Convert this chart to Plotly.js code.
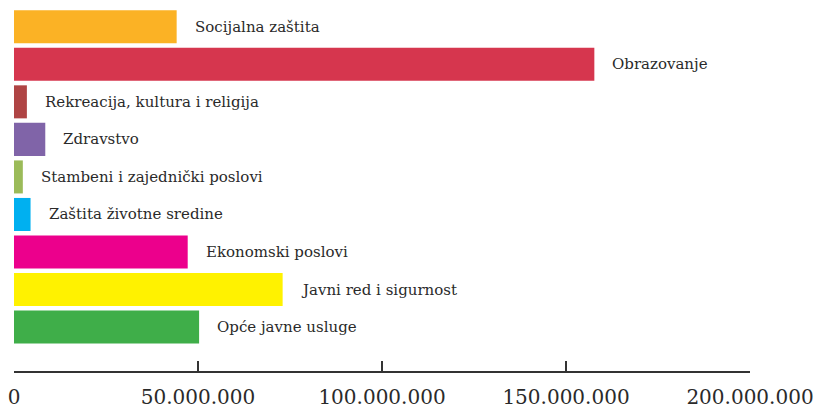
<!DOCTYPE html>
<html>
<head>
<meta charset="utf-8">
<script src="https://cdn.plot.ly/plotly-3.0.1.min.js"></script>
<style>html,body{margin:0;padding:0;background:#fff;}#chart{width:818px;height:409px;}</style>
</head>
<body>
<div id="chart"></div>
<script>
const categories = [
  "Socijalna zaštita",
  "Obrazovanje",
  "Rekreacija, kultura i religija",
  "Zdravstvo",
  "Stambeni i zajednički poslovi",
  "Zaštita životne sredine",
  "Ekonomski poslovi",
  "Javni red i sigurnost",
  "Opće javne usluge"
];
const values = [44200000, 157700000, 3500000, 8500000, 2400000, 4500000, 47200000, 73000000, 50300000];
const colors = ["#FBB225", "#D6364E", "#AF4444", "#8064A8", "#9BBB59", "#00B0F0", "#EC008C", "#FFF200", "#3FAE49"];
const tickValues = [0, 50000000, 100000000, 150000000, 200000000];

const FONT = "DejaVu Serif, Liberation Serif, serif";

const trace = {
  type: "bar",
  orientation: "h",
  y: categories,
  x: values,
  width: 0.88,
  marker: { color: colors, line: { width: 0 } },
  hoverinfo: "none"
};

const annotations = categories.map((c, i) => ({
  x: values[i],
  y: c,
  xref: "x",
  yref: "y",
  text: c,
  showarrow: false,
  xanchor: "left",
  yanchor: "middle",
  xshift: 16,
  font: { family: FONT, size: 15, color: "#2a2a2a" }
}));

const layout = {
  width: 818,
  height: 409,
  margin: { l: 14, r: 68, t: 8, b: 38 },
  paper_bgcolor: "#ffffff",
  plot_bgcolor: "#ffffff",
  separators: ",.",
  showlegend: false,
  xaxis: {
    range: [0, 200000000],
    tickvals: tickValues,
    tickformat: ",d",
    ticks: "inside",
    ticklen: 10,
    tickwidth: 1.5,
    tickcolor: "#333333",
    showline: true,
    linecolor: "#333333",
    linewidth: 1.5,
    showgrid: false,
    zeroline: false,
    ticklabelstandoff: 7,
    tickfont: { family: FONT, size: 20, color: "#2a2a2a" }
  },
  yaxis: {
    type: "category",
    range: [9.17, -0.5],
    showticklabels: false,
    ticks: "",
    showline: false,
    showgrid: false,
    zeroline: false
  },
  annotations: annotations
};

Plotly.newPlot("chart", [trace], layout, { displayModeBar: false, staticPlot: true });
</script>
</body>
</html>
